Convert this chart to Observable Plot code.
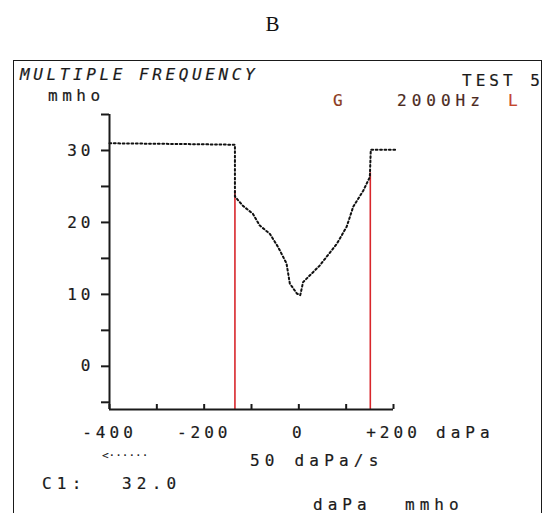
<!DOCTYPE html>
<html><head><meta charset="utf-8">
<script src="https://cdn.jsdelivr.net/npm/d3@7"></script>
<script src="https://cdn.jsdelivr.net/npm/@observablehq/plot@0.6"></script>
<style>
html,body{margin:0;padding:0;background:#fff;}
#fig{position:relative;width:545px;height:513px;overflow:hidden;}
#title{height:60px;font-family:"Liberation Serif","Times New Roman",serif;font-size:21px;text-align:center;line-height:1;padding-top:14px;box-sizing:border-box;color:#111;}
#box{position:absolute;left:13px;top:60px;width:527px;height:480px;border:1.5px solid #1a1a1a;pointer-events:none;}
#chart svg{display:block;}
#chart svg text{stroke:currentColor;stroke-width:0.2px;}
</style></head><body>
<div id="fig"><div id="title">B</div><div id="chart"></div><div id="box"></div></div>
<script>
// tympanogram trace: pressure (daPa) vs admittance (mmho)
const pressure   = [-400, -250, -135, -135, -118, -97, -83, -61, -44, -26, -19, -4, 3, 9, 44, 80, 101, 115, 136, 150, 152, 207];
const admittance = [31.0, 30.9, 30.8, 23.6, 22.3, 21.2, 19.6, 18.4, 16.6, 14.3, 11.5, 10.1, 9.9, 11.7, 14.0, 17.0, 19.4, 22.2, 24.4, 26.3, 30.1, 30.1];
// red cursor lines
const markerPressure   = [-135, 151];
const markerAdmittance = [24.4, 26.9];
// axes
const xDomain = [-400, 200];
const yDomain = [-6, 35];
const xTicks = [-400, -300, -200, -100, 0, 100, 200];
const xTickLabels = ["-400", "", "-200", "", "0", "", "+200"];
const yTicks = [-5, 0, 5, 10, 15, 20, 25, 30, 35];
const yTickLabels = ["", "0", "", "10", "", "20", "", "30", ""];

const trace = pressure.map((p, i) => ({p, a: admittance[i]}));
const markers = markerPressure.map((p, i) => ({p, a: markerAdmittance[i]}));
const xLab = new Map(xTicks.map((t, i) => [t, xTickLabels[i]]));
const yLab = new Map(yTicks.map((t, i) => [t, yTickLabels[i]]));

const ink = "#1a1a1a";
const plot = Plot.plot({
  width: 545, height: 453,
  marginLeft: 109, marginRight: 152, marginTop: 54, marginBottom: 104,
  x: {domain: xDomain}, y: {domain: yDomain},
  style: "font-family:'DejaVu Sans Mono',monospace;font-size:16px;letter-spacing:4px;color:#1a1a1a;background:transparent;overflow:visible;",
  marks: [
    Plot.ruleX(markers, {x: "p", y1: () => yDomain[0], y2: "a", stroke: "#d8262b", strokeWidth: 1.6}),
    Plot.line(trace, {x: "p", y: "a", stroke: "#111", strokeWidth: 2, strokeDasharray: "1.8,2.6"}),
    Plot.ruleX([xDomain[0]], {stroke: ink, strokeWidth: 2}),
    Plot.ruleY([yDomain[0]], {stroke: ink, strokeWidth: 2}),
    Plot.axisY(yTicks, {tickSize: 8, tickPadding: 7, strokeWidth: 2, tickFormat: d => yLab.get(d), label: null}),
    Plot.axisX(xTicks, {tickSize: -5, strokeWidth: 2, tickFormat: () => "", label: null}),
    Plot.axisX(xTicks, {tickSize: 0, tickPadding: 17, tickFormat: d => xLab.get(d), label: null})
  ]
});
document.getElementById("chart").appendChild(plot);

// annotations (svg y = page y - 60)
const svg = d3.select(plot);
const notes = [
  {t: "MULTIPLE FREQUENCY", x: 20, y: 20, ls: 3.6, style: "italic"},
  {t: "mmho", x: 48, y: 41, ls: 4.5},
  {t: "TEST 5", x: 462, y: 26},
  {t: "G", x: 333, y: 46, fill: "#8c3b22"},
  {t: "2000Hz", x: 397, y: 46, fill: "#4b2a1e", ls: 5},
  {t: "L", x: 508, y: 46, fill: "#c4462c"},
  {t: "daPa", x: 436, y: 378, ls: 5},
  {t: "50 daPa/s", x: 250, y: 406, ls: 5.2},
  {t: "C1:", x: 42, y: 429, ls: 5.2},
  {t: "32.0", x: 122, y: 429, ls: 5.2},
  {t: "daPa", x: 313, y: 450, ls: 5},
  {t: "mmho", x: 405, y: 450, ls: 5}
];
for (const n of notes) {
  svg.append("text").attr("x", n.x).attr("y", n.y)
    .attr("text-anchor", "start")
    .attr("fill", n.fill || ink)
    .style("color", n.fill || ink)
    .style("letter-spacing", (n.ls ?? 4) + "px")
    .style("font-style", n.style || "normal")
    .text(n.t);
}
svg.append("text").attr("x", 102).attr("y", 399).attr("fill", ink)
  .attr("text-anchor", "start")
  .style("font-size", "11px").style("letter-spacing", "0px").style("stroke-width", "0.1px").text("<······");
</script>
</body></html>
